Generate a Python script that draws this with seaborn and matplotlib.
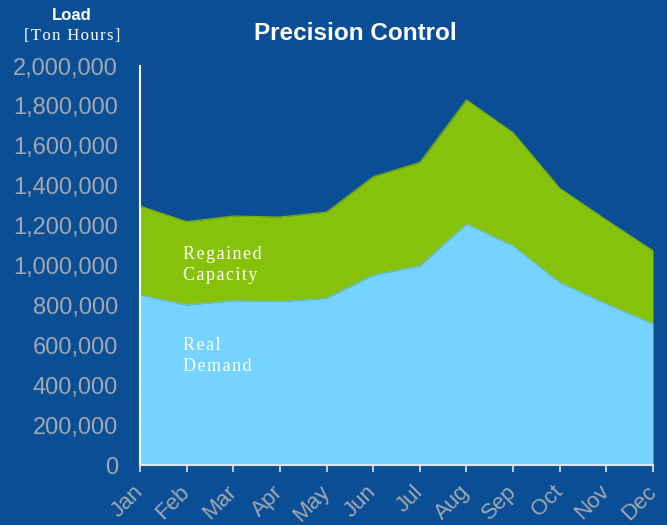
import matplotlib
matplotlib.use("Agg")
import matplotlib.pyplot as plt
import seaborn as sns
import numpy as np
import pandas as pd

months = ["Jan", "Feb", "Mar", "Apr", "May", "Jun", "Jul", "Aug", "Sep", "Oct", "Nov", "Dec"]
real_demand = [852000, 802000, 824000, 819000, 836000, 952000, 999000, 1208000, 1098000, 914000, 807000, 707000]
total_load = [1298000, 1220000, 1248000, 1243000, 1268000, 1445000, 1517000, 1830000, 1666000, 1387000, 1228000, 1074000]
regained_capacity = [t - d for t, d in zip(total_load, real_demand)]
yticks = [0, 200000, 400000, 600000, 800000, 1000000, 1200000, 1400000, 1600000, 1800000, 2000000]

BG = "#0A4F96"
BLUE = "#74D4FF"
GREEN = "#86C20B"
GRAY = "#A3A8B0"

sns.set_style("white")
plt.rcParams['font.family'] = ['Liberation Sans', 'DejaVu Sans']


def spaced(s, sep="\u200a"):
    return "\n".join(sep.join(list(line)) for line in s.split("\n"))


df = pd.DataFrame({"month": months, "x": np.arange(len(months)),
                   "Real Demand": real_demand, "Regained Capacity": regained_capacity})

fig = plt.figure(figsize=(6.67, 5.25), dpi=100, facecolor=BG)
ax = fig.add_axes([140/667, 60/525, 513/667, 399/525])
ax.set_facecolor(BG)

ax.stackplot(df["x"], df["Real Demand"], df["Regained Capacity"],
             colors=[BLUE, GREEN], linewidth=0)
sns.lineplot(x=df["x"], y=df["Real Demand"], ax=ax, color="#6CC0D8", linewidth=0.8)
sns.lineplot(x=df["x"], y=np.array(total_load), ax=ax, color="#7AB00A", linewidth=0.8)

ax.set_xlim(0, len(months) - 1)
ax.set_ylim(0, 2000000)
ax.set_xticks(df["x"])
ax.set_xticklabels(months, rotation=45, ha="right", va="center",
                   rotation_mode="anchor")
ax.set_yticks(yticks)
ax.set_yticklabels([f"{v:,}" for v in yticks])
ax.set_xlabel("")
ax.set_ylabel("")

for s in ["top", "right"]:
    ax.spines[s].set_visible(False)
ax.spines["left"].set_color("white")
ax.spines["left"].set_linewidth(1.5)
ax.spines["bottom"].set_color("#DDE6EE")
ax.spines["bottom"].set_linewidth(1.5)

ax.tick_params(axis="y", length=0, pad=16, labelsize=17, labelcolor=GRAY)
ax.tick_params(axis="x", length=5, width=1.2, color="#DDE6EE", direction="out",
               pad=12, labelsize=16, labelcolor=GRAY, bottom=True)

fig.text(355/667, 1 - 33/525, "Precision Control", color="white", fontsize=17.5,
         fontweight="bold", ha="center", va="center", family=["Liberation Sans"])
fig.text(72/667, 1 - 15/525, "Load", color="white", fontsize=12, fontweight="bold",
         ha="center", va="center")
fig.text(72/667, 1 - 36/525, spaced("[Ton Hours]"), color="white", fontsize=12,
         ha="center", va="center", family=["Liberation Serif", "DejaVu Serif"])

ax.text(0.93, 1003000, spaced("Regained\nCapacity"), color="white", fontsize=13,
        family=["Liberation Serif", "DejaVu Serif"], ha="left", va="center", linespacing=1.3)
ax.text(0.93, 546000, spaced("Real\nDemand"), color="white", fontsize=13,
        family=["Liberation Serif", "DejaVu Serif"], ha="left", va="center", linespacing=1.3)

fig.savefig("out.png", dpi=100, facecolor=BG)
